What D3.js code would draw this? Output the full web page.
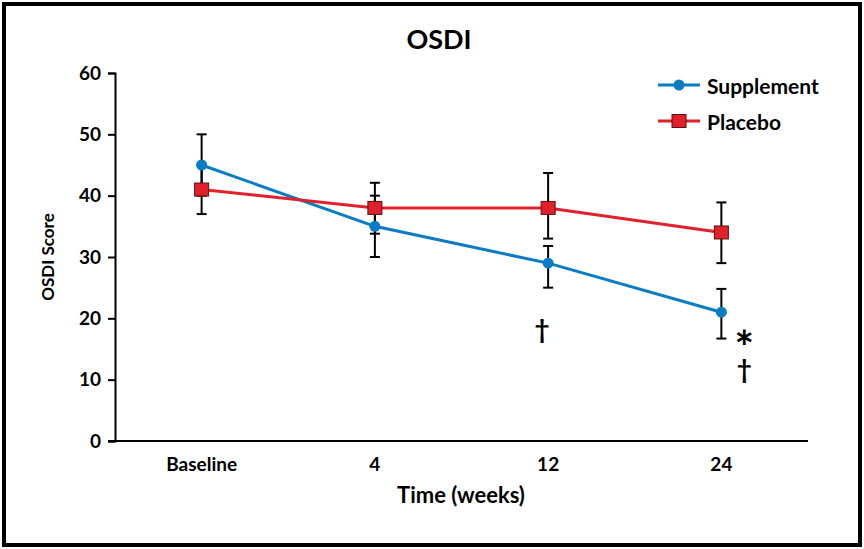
<html>
<head>
  <meta charset="UTF-8">
  <title>OSDI</title>
  <script src="https://cdn.jsdelivr.net/npm/d3@7"></script>
  <style>
    body { margin: 0; background: #fff; }
    text { font-family: Lato, "Open Sans", sans-serif; font-weight: bold; fill: #000; }
  </style>
</head>
<body>
<svg width="864" height="549"></svg>
<script>
// data
var timepoints = ["Baseline", "4", "12", "24"];
var yTicks = [0, 10, 20, 30, 40, 50, 60];

var supplementMean = [45, 35, 29, 21];
var supplementLow  = [40, 30, 25, 16.7];
var supplementHigh = [50, 40, 31.8, 24.8];

var placeboMean = [41, 38, 38, 34];
var placeboLow  = [37, 33.8, 33, 29];
var placeboHigh = [45, 42.1, 43.7, 38.9];

var marks = [
  { at: "12", label: "\u2020", value: 18.2, dx: -6, size: 26 },
  { at: "24", label: "*", value: 15.4, dx: 23, size: 46 },
  { at: "24", label: "\u2020", value: 11.8, dx: 23, size: 26 }
];

var svg = d3.select("svg");
var plotLeft = 115, plotRight = 808, plotTop = 73, plotBottom = 441;

// frame
svg.append("rect")
  .attr("x", 4).attr("y", 4)
  .attr("width", 856).attr("height", 541)
  .attr("fill", "none")
  .attr("stroke", "#000")
  .attr("stroke-width", 4);

var x = d3.scaleBand().domain(timepoints).range([plotLeft, plotRight]);
var y = d3.scaleLinear().domain([0, 60]).range([plotBottom, plotTop]);
var cx = function(d) { return x(d) + x.bandwidth() / 2; };

// y axis
var yAxis = svg.append("g")
  .attr("transform", "translate(" + plotLeft + ",0)")
  .call(d3.axisLeft(y).tickValues(yTicks).tickSize(7).tickPadding(7));
yAxis.select(".domain").attr("stroke", "#000").attr("stroke-width", 2);
yAxis.selectAll(".tick line").attr("stroke", "#000").attr("stroke-width", 2);
yAxis.selectAll("text").style("font-size", "19px").style("font-family", "Lato, sans-serif");

// x axis
var xAxis = svg.append("g")
  .attr("transform", "translate(0," + plotBottom + ")")
  .call(d3.axisBottom(x).tickSize(0).tickPadding(17));
xAxis.select(".domain").attr("d", "M108,0H" + plotRight).attr("stroke", "#000").attr("stroke-width", 2);
xAxis.selectAll("text").style("font-size", "19px").style("font-family", "Lato, sans-serif");

// titles
svg.append("text").attr("x", 439).attr("y", 49).attr("text-anchor", "middle")
  .style("font-size", "27px").text("OSDI");
svg.append("text").attr("x", 461).attr("y", 503).attr("text-anchor", "middle")
  .style("font-size", "22px").text("Time (weeks)");
svg.append("text").attr("transform", "translate(54,257) rotate(-90)").attr("text-anchor", "middle")
  .style("font-size", "17px").text("OSDI Score");

function errorBars(mean, low, high) {
  var g = svg.append("g");
  timepoints.forEach(function(t, i) {
    var xc = cx(t);
    g.append("line").attr("x1", xc).attr("x2", xc).attr("y1", y(low[i])).attr("y2", y(high[i]));
    g.append("line").attr("x1", xc - 5).attr("x2", xc + 5).attr("y1", y(low[i])).attr("y2", y(low[i]));
    g.append("line").attr("x1", xc - 5).attr("x2", xc + 5).attr("y1", y(high[i])).attr("y2", y(high[i]));
  });
  g.selectAll("line").attr("stroke", "#000").attr("stroke-width", 2);
}

errorBars(supplementMean, supplementLow, supplementHigh);
errorBars(placeboMean, placeboLow, placeboHigh);

var line = d3.line().x(function(d) { return cx(d[0]); }).y(function(d) { return y(d[1]); });

var blue = "#0a7cc6", red = "#e0202b";

svg.append("path")
  .datum(d3.zip(timepoints, supplementMean))
  .attr("d", line).attr("fill", "none").attr("stroke", blue).attr("stroke-width", 3);
svg.append("path")
  .datum(d3.zip(timepoints, placeboMean))
  .attr("d", line).attr("fill", "none").attr("stroke", red).attr("stroke-width", 3);

svg.selectAll(".sup").data(d3.zip(timepoints, supplementMean)).enter().append("circle")
  .attr("cx", function(d) { return cx(d[0]); })
  .attr("cy", function(d) { return y(d[1]); })
  .attr("r", 5.5).attr("fill", blue);

svg.selectAll(".pla").data(d3.zip(timepoints, placeboMean)).enter().append("rect")
  .attr("x", function(d) { return cx(d[0]) - 7; })
  .attr("y", function(d) { return y(d[1]) - 6.5; })
  .attr("width", 14).attr("height", 13)
  .attr("fill", red).attr("stroke", "#5a1010").attr("stroke-width", 1);

// significance marks
svg.selectAll(".mark").data(marks).enter().append("text")
  .attr("x", function(d) { return cx(d.at) + d.dx; })
  .attr("y", function(d) { return y(d.value); })
  .attr("text-anchor", "middle")
  .attr("dominant-baseline", "central")
  .style("font-size", function(d) { return d.size + "px"; })
  .text(function(d) { return d.label; });

// legend
var legend = svg.append("g").attr("transform", "translate(658,85)");
legend.append("line").attr("x1", 0).attr("x2", 42).attr("y1", 0).attr("y2", 0)
  .attr("stroke", blue).attr("stroke-width", 3);
legend.append("circle").attr("cx", 21).attr("cy", 0).attr("r", 5.5).attr("fill", blue);
legend.append("text").attr("x", 49).attr("y", 0).attr("dominant-baseline", "central")
  .style("font-size", "21px").text("Supplement");
legend.append("line").attr("x1", 0).attr("x2", 42).attr("y1", 36).attr("y2", 36)
  .attr("stroke", red).attr("stroke-width", 3);
legend.append("rect").attr("x", 14).attr("y", 29.5).attr("width", 14).attr("height", 13)
  .attr("fill", red).attr("stroke", "#5a1010").attr("stroke-width", 1);
legend.append("text").attr("x", 49).attr("y", 36).attr("dominant-baseline", "central")
  .style("font-size", "21px").text("Placebo");
</script>
</body>
</html>
